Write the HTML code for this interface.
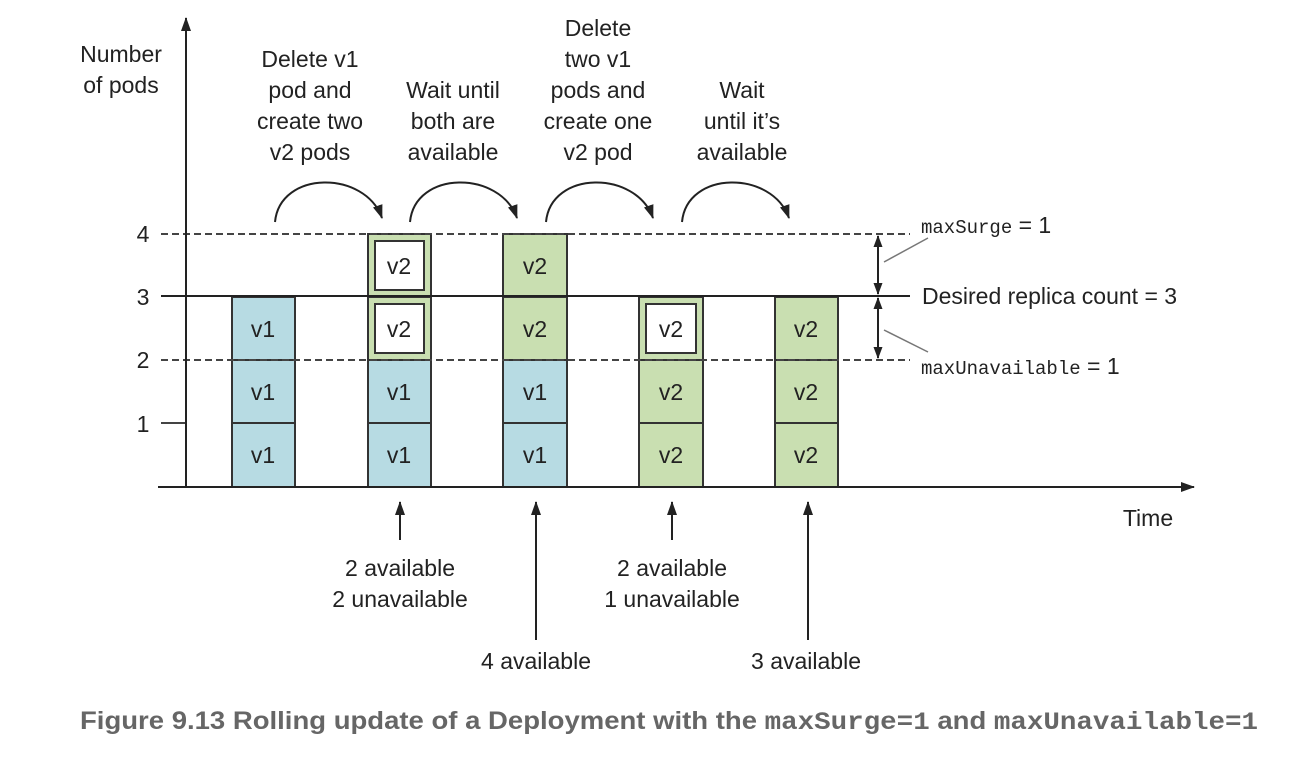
<!DOCTYPE html>
<html><head><style>
body{margin:0;background:#fff}
svg{display:block}
text{font-family:"Liberation Sans",sans-serif;font-size:23px;fill:#222}
.m{font-family:"Liberation Mono",monospace}
</style></head><body>
<svg width="1316" height="758" viewBox="0 0 1316 758">
<defs>
<marker id="a" markerWidth="12" markerHeight="12" refX="11" refY="6" orient="auto-start-reverse" markerUnits="userSpaceOnUse"><path d="M0,1.5 L12,6 L0,10.5 Z" fill="#222"/></marker>
<marker id="s" markerWidth="14" markerHeight="14" refX="13" refY="7" orient="auto-start-reverse" markerUnits="userSpaceOnUse"><path d="M0,2 L14,7 L0,12 Z" fill="#222"/></marker>
</defs>
<g stroke="#333" stroke-width="2">
<rect x="232" y="297" width="63" height="63" fill="#b7dbe3"/>
<rect x="232" y="360" width="63" height="63" fill="#b7dbe3"/>
<rect x="232" y="423" width="63" height="64" fill="#b7dbe3"/>
<rect x="368" y="234" width="63" height="63" fill="#c9dfb1"/>
<rect x="368" y="297" width="63" height="63" fill="#c9dfb1"/>
<rect x="368" y="360" width="63" height="63" fill="#b7dbe3"/>
<rect x="368" y="423" width="63" height="64" fill="#b7dbe3"/>
<rect x="503" y="234" width="64" height="63" fill="#c9dfb1"/>
<rect x="503" y="297" width="64" height="63" fill="#c9dfb1"/>
<rect x="503" y="360" width="64" height="63" fill="#b7dbe3"/>
<rect x="503" y="423" width="64" height="64" fill="#b7dbe3"/>
<rect x="639" y="297" width="64" height="63" fill="#c9dfb1"/>
<rect x="639" y="360" width="64" height="63" fill="#c9dfb1"/>
<rect x="639" y="423" width="64" height="64" fill="#c9dfb1"/>
<rect x="775" y="297" width="63" height="63" fill="#c9dfb1"/>
<rect x="775" y="360" width="63" height="63" fill="#c9dfb1"/>
<rect x="775" y="423" width="63" height="64" fill="#c9dfb1"/>
<rect x="375" y="241" width="49" height="49" fill="#fff"/>
<rect x="375" y="304" width="49" height="49" fill="#fff"/>
<rect x="646" y="304" width="50" height="49" fill="#fff"/>
</g>
<g stroke="#444" stroke-width="2" fill="none">
<line x1="161" y1="234" x2="910" y2="234" stroke-dasharray="7,4"/>
<line x1="161" y1="360" x2="910" y2="360" stroke-dasharray="7,4"/>
<line x1="161" y1="296" x2="910" y2="296" stroke="#222"/>
<line x1="161" y1="423" x2="186" y2="423"/>
<line x1="186" y1="487" x2="186" y2="18" stroke="#222" marker-end="url(#s)"/>
<line x1="158" y1="487" x2="1194" y2="487" stroke="#222" marker-end="url(#s)"/>
<line x1="878" y1="236" x2="878" y2="294" marker-start="url(#a)" marker-end="url(#a)" stroke="#222"/>
<line x1="878" y1="298" x2="878" y2="358" marker-start="url(#a)" marker-end="url(#a)" stroke="#222"/>
<line x1="884" y1="262" x2="928" y2="238" stroke="#777" stroke-width="1.5"/>
<line x1="884" y1="330" x2="928" y2="352" stroke="#777" stroke-width="1.5"/>
<path d="M275,222 C280,170 365,170 382,218" marker-end="url(#s)" stroke="#222"/>
<path d="M410,222 C415,170 500,170 517,218" marker-end="url(#s)" stroke="#222"/>
<path d="M546,222 C551,170 636,170 653,218" marker-end="url(#s)" stroke="#222"/>
<path d="M682,222 C687,170 772,170 789,218" marker-end="url(#s)" stroke="#222"/>
<line x1="400" y1="540" x2="400" y2="502" marker-end="url(#s)" stroke="#222"/>
<line x1="536" y1="640" x2="536" y2="502" marker-end="url(#s)" stroke="#222"/>
<line x1="672" y1="540" x2="672" y2="502" marker-end="url(#s)" stroke="#222"/>
<line x1="808" y1="640" x2="808" y2="502" marker-end="url(#s)" stroke="#222"/>
</g>
<g text-anchor="middle">
<text x="143" y="242">4</text><text x="143" y="305">3</text><text x="143" y="368">2</text><text x="143" y="432">1</text>
<text x="121" y="62">Number</text><text x="121" y="93">of pods</text>
<text x="1148" y="526">Time</text>
<g style="font-size:21px">
<text x="263" y="337">v1</text><text x="263" y="400">v1</text><text x="263" y="463">v1</text>
<text x="399" y="274">v2</text><text x="399" y="337">v2</text><text x="399" y="400">v1</text><text x="399" y="463">v1</text>
<text x="535" y="274">v2</text><text x="535" y="337">v2</text><text x="535" y="400">v1</text><text x="535" y="463">v1</text>
<text x="671" y="337">v2</text><text x="671" y="400">v2</text><text x="671" y="463">v2</text>
<text x="806" y="337">v2</text><text x="806" y="400">v2</text><text x="806" y="463">v2</text>
</g>
<text x="310" y="67">Delete v1</text><text x="310" y="98">pod and</text><text x="310" y="129">create two</text><text x="310" y="160">v2 pods</text>
<text x="453" y="98">Wait until</text><text x="453" y="129">both are</text><text x="453" y="160">available</text>
<text x="598" y="36">Delete</text><text x="598" y="67">two v1</text><text x="598" y="98">pods and</text><text x="598" y="129">create one</text><text x="598" y="160">v2 pod</text>
<text x="742" y="98">Wait</text><text x="742" y="129">until it’s</text><text x="742" y="160">available</text>
<text x="400" y="576">2 available</text><text x="400" y="607">2 unavailable</text>
<text x="672" y="576">2 available</text><text x="672" y="607">1 unavailable</text>
<text x="536" y="669">4 available</text>
<text x="806" y="669">3 available</text>
</g>
<text x="921" y="233"><tspan class="m" font-size="19">maxSurge</tspan> = 1</text>
<text x="922" y="304">Desired replica count = 3</text>
<text x="921" y="374"><tspan class="m" font-size="19">maxUnavailable</tspan> = 1</text>
<text x="80" y="729" font-weight="bold" style="fill:#666;font-size:25px" textLength="1178" lengthAdjust="spacingAndGlyphs">Figure 9.13   Rolling update of a Deployment with the <tspan class="m">maxSurge=1</tspan> and <tspan class="m">maxUnavailable=1</tspan></text>
</svg>
</body></html>
